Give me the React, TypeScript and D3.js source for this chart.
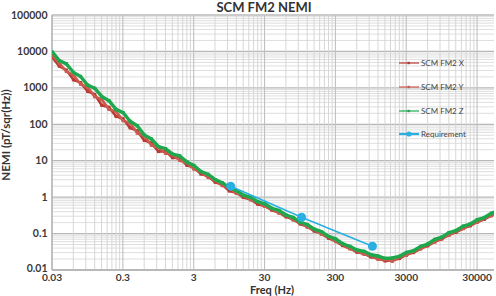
import * as d3 from "d3";

// frequency bins (Hz)
const FREQ = [
  0.0302, 0.038, 0.0479, 0.0603, 0.0759, 0.0955, 0.12, 0.151, 0.191, 0.24,
  0.302, 0.38, 0.479, 0.603, 0.759, 0.955, 1.2, 1.51, 1.91, 2.4,
  3.02, 3.8, 4.79, 6.03, 7.59, 9.55, 12, 15.1, 19.1, 24,
  30.2, 38, 47.9, 60.3, 75.9, 95.5, 120, 151, 191, 240,
  302, 380, 479, 603, 759, 955, 1200, 1510, 1910, 2400,
  3020, 3800, 4790, 6030, 7590, 9550, 12000, 15100, 19100, 24000,
  30200, 38000, 47900, 56200,
];

const SCM_X = [
  7000, 3950, 3080, 1660, 1390, 805, 661, 334, 294, 166,
  142, 79.8, 65.9, 36.1, 30.5, 17.9, 18.3, 12.1, 11.7, 7.53,
  6.46, 4.31, 3.78, 2.58, 2.22, 1.48, 1.33, 0.984, 0.863, 0.643,
  0.573, 0.442, 0.374, 0.288, 0.247, 0.184, 0.157, 0.117, 0.1, 0.0745,
  0.0619, 0.0469, 0.039, 0.0308, 0.0284, 0.0228, 0.0206, 0.0178, 0.0182, 0.0207,
  0.0265, 0.0301, 0.0388, 0.046, 0.06, 0.0711, 0.0923, 0.108, 0.139, 0.163,
  0.209, 0.245, 0.315, 0.356,
];

const SCM_Y = [
  7670, 4750, 2810, 2240, 1260, 1060, 575, 483, 256, 229,
  126, 108, 57.4, 47.5, 26.6, 22.6, 16, 14.5, 10.2, 8.85,
  5.89, 4.94, 3.45, 2.89, 2.07, 1.78, 1.27, 1.1, 0.843, 0.738,
  0.56, 0.484, 0.366, 0.316, 0.236, 0.202, 0.15, 0.129, 0.0959, 0.0817,
  0.0605, 0.0514, 0.0381, 0.0337, 0.0271, 0.025, 0.0196, 0.0195, 0.0174, 0.0228,
  0.0253, 0.0322, 0.0379, 0.0493, 0.0586, 0.0762, 0.0902, 0.116, 0.136, 0.175,
  0.205, 0.263, 0.308, 0.373,
];

const SCM_Z = [
  9700, 5580, 4560, 2640, 2050, 1190, 977, 581, 445, 257,
  209, 121, 91, 51, 39.4, 24.2, 21.5, 15.2, 13.5, 9.27,
  7.41, 5.06, 4.25, 3.03, 2.49, 1.82, 1.52, 1.13, 0.99, 0.755,
  0.658, 0.495, 0.43, 0.323, 0.277, 0.207, 0.177, 0.132, 0.113, 0.0836,
  0.0711, 0.0526, 0.0448, 0.0353, 0.0326, 0.0262, 0.0242, 0.0209, 0.0214, 0.0238,
  0.0304, 0.0337, 0.0446, 0.0516, 0.0689, 0.0798, 0.106, 0.121, 0.16, 0.183,
  0.24, 0.275, 0.362, 0.4,
];

const REQ_FREQ = [10, 100, 1000];
const REQ_VAL = [2, 0.28, 0.045];

const X_TICKS = [0.03, 0.3, 3, 30, 300, 3000, 30000];
const X_TICK_LABELS = ["0.03", "0.3", "3", "30", "300", "3000", "30000"];
const Y_TICKS = [0.01, 0.1, 1, 10, 100, 1000, 10000, 100000];
const Y_TICK_LABELS = ["0.01", "0.1", "1", "10", "100", "1000", "10000", "100000"];

const SERIES_NAMES = ["SCM FM2 X", "SCM FM2 Y", "SCM FM2 Z", "Requirement"];
const SERIES_COLORS = ["#b83a32", "#cc5a4e", "#1ea84e", "#2aafe2"];

const W = 496;
const H = 296;
const FONT = "Lato, 'Open Sans', sans-serif";

export default function App() {
  const left = 52, top = 15, right = 494, bottom = 270;
  const xMax = 52000;

  const x = d3.scaleLog().domain([0.03, xMax]).range([left, right]);
  const y = d3.scaleLog().domain([0.01, 100000]).range([bottom, top]);

  // grid: n * major for n = 1..9
  const xGrid: { v: number; major: boolean }[] = [];
  X_TICKS.forEach((m) => {
    for (let n = 1; n <= 9; n++) if (m * n <= xMax) xGrid.push({ v: m * n, major: n === 1 });
  });
  const yGrid: { v: number; major: boolean }[] = [];
  Y_TICKS.forEach((m) => {
    for (let n = 1; n <= 9; n++) if (m * n <= 100000) yGrid.push({ v: m * n, major: n === 1 });
  });

  const line = d3
    .line<[number, number]>()
    .x((d) => x(d[0]))
    .y((d) => y(d[1]));

  const series = [SCM_X, SCM_Y, SCM_Z].map((vals) => FREQ.map((f, i) => [f, vals[i]] as [number, number]));
  const req = REQ_FREQ.map((f, i) => [f, REQ_VAL[i]] as [number, number]);

  const legendY = [63, 87, 111, 134];

  return (
    <svg width={W} height={H} style={{ position: "absolute", left: 0, top: 0, background: "#fff" }}>
      <defs>
        <clipPath id="plot">
          <rect x={left} y={top} width={right - left} height={bottom - top} />
        </clipPath>
      </defs>

      {/* grid */}
      {yGrid.map((g, i) => (
        <line key={"h" + i} x1={left} x2={right} y1={y(g.v)} y2={y(g.v)}
          stroke={g.major ? "#b8b8b8" : "#d6d6d6"} strokeWidth={g.major ? 1.3 : 0.8} />
      ))}
      {xGrid.map((g, i) => (
        <line key={"v" + i} x1={x(g.v)} x2={x(g.v)} y1={top} y2={bottom}
          stroke={g.major ? "#c0c0c0" : "#d3d3d3"} strokeWidth={g.major ? 1.1 : 0.9} />
      ))}
      <line x1={left} x2={left} y1={top} y2={bottom} stroke="#a6a6a6" />
      <line x1={left} x2={right} y1={bottom} y2={bottom} stroke="#a6a6a6" />

      {/* data */}
      <g clipPath="url(#plot)">
        {series.map((s, si) => (
          <g key={si}>
            <path d={line(s) ?? ""} fill="none" stroke={SERIES_COLORS[si]} strokeWidth={si === 2 ? 3.4 : 2.6} strokeLinejoin="round" />
            {s.map((d, i) => (
              <rect key={i} x={x(d[0]) - 1.6} y={y(d[1]) - 1.6} width={3.2} height={3.2} fill={SERIES_COLORS[si]} />
            ))}
          </g>
        ))}
        <path d={line(req) ?? ""} fill="none" stroke={SERIES_COLORS[3]} strokeWidth={1.6} />
        {req.map((d, i) => (
          <circle key={i} cx={x(d[0])} cy={y(d[1])} r={4.5} fill={SERIES_COLORS[3]} />
        ))}
      </g>

      {/* y tick labels */}
      {Y_TICKS.map((t, i) => (
        <text key={"yt" + i} x={47.5} y={y(t) + (i === 0 ? 2.2 : 3.6)} textAnchor="end" fontFamily={FONT} fontSize={10.5}
          fontWeight="bold" fill="#3a3a3a">{Y_TICK_LABELS[i]}</text>
      ))}
      {/* x tick labels */}
      {X_TICKS.map((t, i) => (
        <text key={"xt" + i} x={x(t)} y={281} textAnchor="middle" fontFamily={FONT} fontSize={10.2}
          fontWeight="bold" fill="#3a3a3a">{X_TICK_LABELS[i]}</text>
      ))}

      {/* titles */}
      <text x={272} y={294} textAnchor="middle" fontFamily={FONT} fontSize={11} fontWeight="bold" fill="#333">
        Freq (Hz)
      </text>
      <text x={264} y={12} textAnchor="middle" fontFamily={FONT} fontSize={13} fontWeight="bold" fill="#333">
        SCM FM2 NEMI
      </text>
      <text transform="translate(10,135) rotate(-90)" textAnchor="middle" fontFamily={FONT} fontSize={11.5}
        fontWeight="bold" fill="#333">
        NEMI (pT/sqr(Hz))
      </text>

      {/* legend */}
      {SERIES_NAMES.map((name, i) => (
        <g key={"lg" + i}>
          <line x1={399} x2={419} y1={legendY[i]} y2={legendY[i]} stroke={SERIES_COLORS[i]} strokeWidth={i === 3 ? 2.2 : 1.2} />
          {i === 3 ? (
            <circle cx={409} cy={legendY[i]} r={2.6} fill={SERIES_COLORS[i]} />
          ) : (
            <rect x={407.5} y={legendY[i] - 1.2} width={2.4} height={2.4} fill={SERIES_COLORS[i]} />
          )}
          <text x={421} y={legendY[i] + 2.8} fontFamily={FONT} fontSize={8} fill="#444">{name}</text>
        </g>
      ))}
    </svg>
  );
}
